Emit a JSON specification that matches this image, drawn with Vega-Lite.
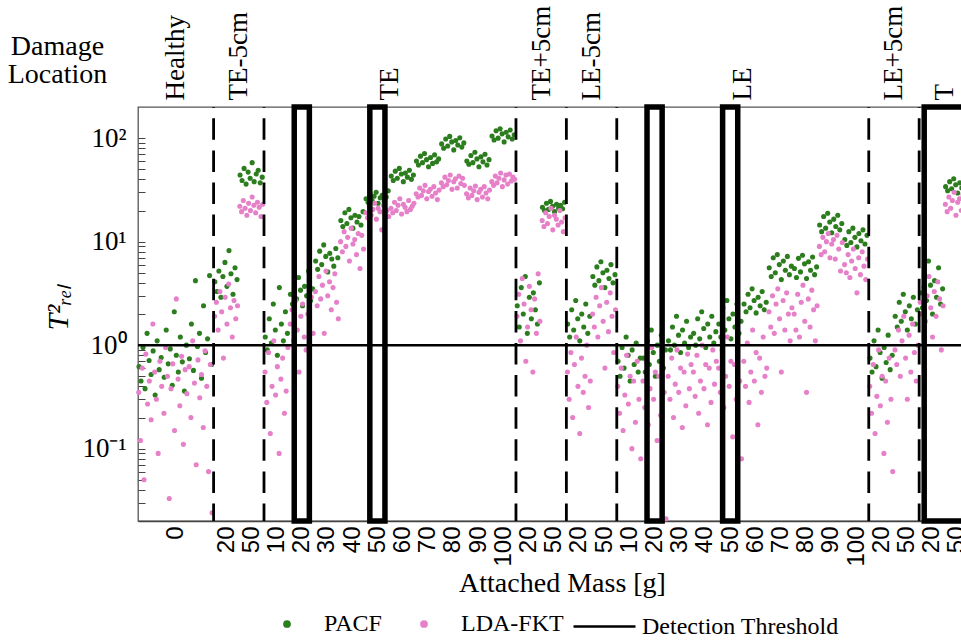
{
"$schema": "https://vega.github.io/schema/vega-lite/v6.json",
"width": 824,
"height": 414,
"autosize": {"type": "none"},
"padding": {"left": 138, "top": 107, "right": 0, "bottom": 120},
"background": "white",
"config": {
  "font": "Liberation Serif",
  "view": {"stroke": "#555", "strokeWidth": 1.3},
  "axis": {"grid": false, "domainColor": "#444", "domainWidth": 1.3, "tickColor": "#444", "labelColor": "black", "titleColor": "black", "titleFontWeight": "normal"},
  "legend": {"labelFont": "Liberation Serif", "labelFontSize": 24, "labelColor": "black", "labelLimit": 400}
},
"datasets": {
"pacf": [
{"x":0.04,"y":0.62},{"x":0.12,"y":0.45},{"x":0.2,"y":0.95},{"x":0.28,"y":0.38},{"x":0.36,"y":1.3},{"x":0.44,"y":0.71},{"x":0.52,"y":0.52},{"x":0.6,"y":0.88},{"x":0.68,"y":0.33},{"x":0.76,"y":1.1},{"x":0.84,"y":0.58},{"x":0.92,"y":0.76},
{"x":1.04,"y":0.49},{"x":1.12,"y":1.4},{"x":1.2,"y":0.66},{"x":1.28,"y":0.92},{"x":1.36,"y":0.41},{"x":1.44,"y":2.1},{"x":1.52,"y":0.8},{"x":1.6,"y":0.55},{"x":1.68,"y":1.2},{"x":1.76,"y":0.69},{"x":1.84,"y":0.36},{"x":1.92,"y":1.0},
{"x":2.04,"y":0.74},{"x":2.12,"y":1.6},{"x":2.2,"y":0.57},{"x":2.28,"y":4.2},{"x":2.36,"y":0.97},{"x":2.44,"y":1.3},{"x":2.52,"y":0.48},{"x":2.6,"y":2.4},{"x":2.68,"y":0.85},{"x":2.76,"y":1.15},{"x":2.84,"y":4.7},{"x":2.92,"y":0.65},
{"x":3.05,"y":4.1},{"x":3.13,"y":3.3},{"x":3.21,"y":5.2},{"x":3.29,"y":2.9},{"x":3.37,"y":4.6},{"x":3.45,"y":6.3},{"x":3.53,"y":3.7},{"x":3.61,"y":8.2},{"x":3.69,"y":4.9},{"x":3.77,"y":3.1},{"x":3.85,"y":5.6},{"x":3.93,"y":4.3},
{"x":4.05,"y":44},{"x":4.13,"y":39},{"x":4.21,"y":51},{"x":4.29,"y":36},{"x":4.37,"y":47},{"x":4.45,"y":41},{"x":4.53,"y":58},{"x":4.61,"y":38},{"x":4.69,"y":45},{"x":4.77,"y":49},{"x":4.85,"y":37},{"x":4.93,"y":42},
{"x":5.05,"y":1.2},{"x":5.13,"y":0.9},{"x":5.21,"y":1.8},{"x":5.29,"y":1.05},{"x":5.37,"y":2.5},{"x":5.45,"y":1.4},{"x":5.53,"y":0.8},{"x":5.61,"y":3.6},{"x":5.69,"y":1.6},{"x":5.77,"y":1.1},{"x":5.85,"y":2.1},{"x":5.93,"y":1.3},
{"x":6.05,"y":3.1},{"x":6.13,"y":2.5},{"x":6.21,"y":3.9},{"x":6.29,"y":2.8},{"x":6.37,"y":4.5},{"x":6.45,"y":3.4},{"x":6.53,"y":2.4},{"x":6.61,"y":3.7},{"x":6.69,"y":3.0},{"x":6.77,"y":5.2},{"x":6.85,"y":2.7},{"x":6.93,"y":3.5},
{"x":7.05,"y":6.5},{"x":7.13,"y":5.4},{"x":7.21,"y":8.1},{"x":7.29,"y":6.0},{"x":7.37,"y":9.3},{"x":7.45,"y":7.2},{"x":7.53,"y":5.1},{"x":7.61,"y":7.7},{"x":7.69,"y":6.8},{"x":7.77,"y":5.8},{"x":7.85,"y":8.6},{"x":7.93,"y":7.0},
{"x":8.05,"y":16},{"x":8.13,"y":14},{"x":8.21,"y":19},{"x":8.29,"y":15},{"x":8.37,"y":20.5},{"x":8.45,"y":17},{"x":8.53,"y":13.5},{"x":8.61,"y":18},{"x":8.69,"y":15.5},{"x":8.77,"y":17.5},{"x":8.85,"y":14.5},{"x":8.93,"y":19.5},
{"x":9.05,"y":26},{"x":9.13,"y":24},{"x":9.21,"y":29},{"x":9.29,"y":25},{"x":9.37,"y":27.5},{"x":9.45,"y":30},{"x":9.53,"y":23.5},{"x":9.61,"y":26.5},{"x":9.69,"y":28},{"x":9.77,"y":24.5},{"x":9.85,"y":27},{"x":9.93,"y":31},
{"x":10.05,"y":43},{"x":10.13,"y":39},{"x":10.21,"y":48},{"x":10.29,"y":41},{"x":10.37,"y":51},{"x":10.45,"y":45},{"x":10.53,"y":38},{"x":10.61,"y":46},{"x":10.69,"y":42},{"x":10.77,"y":49},{"x":10.85,"y":40},{"x":10.93,"y":44},
{"x":11.05,"y":60},{"x":11.13,"y":55},{"x":11.21,"y":67},{"x":11.29,"y":58},{"x":11.37,"y":71},{"x":11.45,"y":62},{"x":11.53,"y":53},{"x":11.61,"y":65},{"x":11.69,"y":57},{"x":11.77,"y":69},{"x":11.85,"y":59},{"x":11.93,"y":63},
{"x":12.05,"y":88},{"x":12.13,"y":80},{"x":12.21,"y":98},{"x":12.29,"y":84},{"x":12.37,"y":104},{"x":12.45,"y":92},{"x":12.53,"y":77},{"x":12.61,"y":95},{"x":12.69,"y":86},{"x":12.77,"y":101},{"x":12.85,"y":82},{"x":12.93,"y":90},
{"x":13.05,"y":60},{"x":13.13,"y":56},{"x":13.21,"y":68},{"x":13.29,"y":58},{"x":13.37,"y":73},{"x":13.45,"y":63},{"x":13.53,"y":53},{"x":13.61,"y":66},{"x":13.69,"y":59},{"x":13.77,"y":70},{"x":13.85,"y":55},{"x":13.93,"y":62},
{"x":14.05,"y":105},{"x":14.13,"y":96},{"x":14.21,"y":118},{"x":14.29,"y":100},{"x":14.37,"y":123},{"x":14.45,"y":110},{"x":14.53,"y":92},{"x":14.61,"y":114},{"x":14.69,"y":103},{"x":14.77,"y":120},{"x":14.85,"y":98},{"x":14.93,"y":108},
{"x":15.05,"y":2.4},{"x":15.13,"y":1.5},{"x":15.21,"y":3.6},{"x":15.29,"y":2.0},{"x":15.37,"y":4.6},{"x":15.45,"y":1.3},{"x":15.53,"y":2.9},{"x":15.61,"y":1.8},{"x":15.69,"y":3.2},{"x":15.77,"y":2.2},{"x":15.85,"y":1.6},{"x":15.93,"y":4.0},
{"x":16.05,"y":21.5},{"x":16.13,"y":20},{"x":16.21,"y":23.5},{"x":16.29,"y":20.5},{"x":16.37,"y":24.5},{"x":16.45,"y":22},{"x":16.53,"y":19.5},{"x":16.61,"y":23},{"x":16.69,"y":21},{"x":16.77,"y":22.5},{"x":16.85,"y":20.8},{"x":16.93,"y":24},
{"x":17.05,"y":1.6},{"x":17.13,"y":1.2},{"x":17.21,"y":2.2},{"x":17.29,"y":1.4},{"x":17.37,"y":2.7},{"x":17.45,"y":1.8},{"x":17.53,"y":1.1},{"x":17.61,"y":2.0},{"x":17.69,"y":1.5},{"x":17.77,"y":2.5},{"x":17.85,"y":1.3},{"x":17.93,"y":1.9},
{"x":18.05,"y":4.6},{"x":18.13,"y":3.8},{"x":18.21,"y":5.7},{"x":18.29,"y":4.2},{"x":18.37,"y":6.4},{"x":18.45,"y":5.0},{"x":18.53,"y":3.6},{"x":18.61,"y":5.3},{"x":18.69,"y":4.4},{"x":18.77,"y":6.0},{"x":18.85,"y":4.0},{"x":18.93,"y":4.8},
{"x":19.05,"y":0.7},{"x":19.13,"y":0.5},{"x":19.21,"y":0.95},{"x":19.29,"y":0.6},{"x":19.37,"y":1.2},{"x":19.45,"y":0.8},{"x":19.53,"y":0.45},{"x":19.61,"y":0.9},{"x":19.69,"y":0.65},{"x":19.77,"y":1.05},{"x":19.85,"y":0.55},{"x":19.93,"y":0.75},
{"x":20.05,"y":0.75},{"x":20.13,"y":0.55},{"x":20.21,"y":1.1},{"x":20.29,"y":0.65},{"x":20.37,"y":1.4},{"x":20.45,"y":0.85},{"x":20.53,"y":0.5},{"x":20.61,"y":1.0},{"x":20.69,"y":0.7},{"x":20.77,"y":1.25},{"x":20.85,"y":0.6},{"x":20.93,"y":0.9},
{"x":21.05,"y":1.1},{"x":21.13,"y":0.9},{"x":21.21,"y":1.5},{"x":21.29,"y":1.0},{"x":21.37,"y":1.9},{"x":21.45,"y":1.25},{"x":21.53,"y":0.85},{"x":21.61,"y":1.4},{"x":21.69,"y":1.05},{"x":21.77,"y":1.7},{"x":21.85,"y":0.95},{"x":21.93,"y":1.2},
{"x":22.05,"y":1.3},{"x":22.13,"y":1.0},{"x":22.21,"y":1.8},{"x":22.29,"y":1.15},{"x":22.37,"y":2.1},{"x":22.45,"y":1.45},{"x":22.53,"y":0.95},{"x":22.61,"y":1.6},{"x":22.69,"y":1.2},{"x":22.77,"y":1.9},{"x":22.85,"y":1.05},{"x":22.93,"y":1.35},
{"x":23.05,"y":1.6},{"x":23.13,"y":1.2},{"x":23.21,"y":2.3},{"x":23.29,"y":1.4},{"x":23.37,"y":2.7},{"x":23.45,"y":1.8},{"x":23.53,"y":1.15},{"x":23.61,"y":2.0},{"x":23.69,"y":1.5},{"x":23.77,"y":2.5},{"x":23.85,"y":1.3},{"x":23.93,"y":1.7},
{"x":24.05,"y":2.5},{"x":24.13,"y":2.1},{"x":24.21,"y":3.1},{"x":24.29,"y":2.3},{"x":24.37,"y":3.5},{"x":24.45,"y":2.7},{"x":24.53,"y":2.05},{"x":24.61,"y":2.9},{"x":24.69,"y":2.4},{"x":24.77,"y":3.3},{"x":24.85,"y":2.2},{"x":24.93,"y":2.6},
{"x":25.05,"y":5.6},{"x":25.13,"y":4.6},{"x":25.21,"y":7.0},{"x":25.29,"y":5.0},{"x":25.37,"y":7.5},{"x":25.45,"y":6.0},{"x":25.53,"y":4.3},{"x":25.61,"y":6.5},{"x":25.69,"y":5.3},{"x":25.77,"y":7.2},{"x":25.85,"y":4.8},{"x":25.93,"y":5.8},
{"x":26.05,"y":5.5},{"x":26.13,"y":4.5},{"x":26.21,"y":6.9},{"x":26.29,"y":5.1},{"x":26.37,"y":7.4},{"x":26.45,"y":6.1},{"x":26.53,"y":4.4},{"x":26.61,"y":6.4},{"x":26.69,"y":5.3},{"x":26.77,"y":7.1},{"x":26.85,"y":4.8},{"x":26.93,"y":5.7},
{"x":27.05,"y":14.5},{"x":27.13,"y":12.5},{"x":27.21,"y":17.5},{"x":27.29,"y":13.5},{"x":27.37,"y":18.8},{"x":27.45,"y":15.5},{"x":27.53,"y":12.2},{"x":27.61,"y":16.5},{"x":27.69,"y":14},{"x":27.77,"y":18},{"x":27.85,"y":13},{"x":27.93,"y":15},
{"x":28.05,"y":10.5},{"x":28.13,"y":9.2},{"x":28.21,"y":12.5},{"x":28.29,"y":9.8},{"x":28.37,"y":13.5},{"x":28.45,"y":11},{"x":28.53,"y":8.9},{"x":28.61,"y":12},{"x":28.69,"y":10.2},{"x":28.77,"y":13},{"x":28.85,"y":9.5},{"x":28.93,"y":11.5},
{"x":29.05,"y":0.75},{"x":29.13,"y":0.55},{"x":29.21,"y":1.1},{"x":29.29,"y":0.62},{"x":29.37,"y":1.4},{"x":29.45,"y":0.85},{"x":29.53,"y":0.48},{"x":29.61,"y":0.95},{"x":29.69,"y":0.68},{"x":29.77,"y":1.25},{"x":29.85,"y":0.58},{"x":29.93,"y":0.8},
{"x":30.05,"y":1.9},{"x":30.13,"y":1.5},{"x":30.21,"y":2.6},{"x":30.29,"y":1.7},{"x":30.37,"y":3.1},{"x":30.45,"y":2.1},{"x":30.53,"y":1.4},{"x":30.61,"y":2.4},{"x":30.69,"y":1.8},{"x":30.77,"y":2.9},{"x":30.85,"y":1.6},{"x":30.93,"y":2.2},
{"x":31.05,"y":3.2},{"x":31.13,"y":2.3},{"x":31.21,"y":4.8},{"x":31.29,"y":2.7},{"x":31.37,"y":6.5},{"x":31.45,"y":3.8},{"x":31.53,"y":2.0},{"x":31.61,"y":4.2},{"x":31.69,"y":2.9},{"x":31.77,"y":5.6},{"x":31.85,"y":2.5},{"x":31.93,"y":3.5},
{"x":32.05,"y":34},{"x":32.13,"y":31},{"x":32.21,"y":38},{"x":32.29,"y":32.5},{"x":32.37,"y":40.5},{"x":32.45,"y":35.5},{"x":32.53,"y":29.5},{"x":32.61,"y":37},{"x":32.69,"y":33},{"x":32.77,"y":39},{"x":32.85,"y":30.5},{"x":32.93,"y":36}
],
"lda": [
{"x":0.03,"y":0.35},{"x":0.1,"y":0.12},{"x":0.17,"y":0.6},{"x":0.24,"y":0.05},{"x":0.31,"y":0.82},{"x":0.38,"y":0.27},{"x":0.45,"y":0.45},{"x":0.52,"y":0.19},{"x":0.59,"y":1.6},{"x":0.66,"y":0.55},{"x":0.73,"y":0.3},{"x":0.8,"y":0.09},{"x":0.87,"y":0.7},{"x":0.94,"y":0.4},
{"x":1.03,"y":0.22},{"x":1.1,"y":0.95},{"x":1.17,"y":0.5},{"x":1.24,"y":0.033},{"x":1.31,"y":0.38},{"x":1.38,"y":0.66},{"x":1.45,"y":0.15},{"x":1.52,"y":2.8},{"x":1.59,"y":0.47},{"x":1.66,"y":0.26},{"x":1.73,"y":0.78},{"x":1.8,"y":0.11},{"x":1.87,"y":0.58},{"x":1.94,"y":0.34},
{"x":2.03,"y":0.62},{"x":2.1,"y":0.2},{"x":2.17,"y":1.1},{"x":2.24,"y":0.43},{"x":2.31,"y":0.07},{"x":2.38,"y":0.72},{"x":2.45,"y":0.31},{"x":2.52,"y":0.52},{"x":2.59,"y":0.16},{"x":2.66,"y":0.88},{"x":2.73,"y":0.4},{"x":2.8,"y":0.06},{"x":2.87,"y":0.65},{"x":2.94,"y":0.024},
{"x":3.04,"y":1.9},{"x":3.11,"y":2.6},{"x":3.18,"y":1.4},{"x":3.25,"y":3.3},{"x":3.32,"y":2.1},{"x":3.39,"y":0.75},{"x":3.46,"y":2.9},{"x":3.53,"y":1.6},{"x":3.6,"y":3.9},{"x":3.67,"y":2.3},{"x":3.74,"y":1.2},{"x":3.81,"y":2.7},{"x":3.88,"y":1.8},{"x":3.95,"y":2.4},
{"x":4.04,"y":22},{"x":4.11,"y":19.5},{"x":4.18,"y":25},{"x":4.25,"y":21},{"x":4.32,"y":18},{"x":4.39,"y":23.5},{"x":4.46,"y":20},{"x":4.53,"y":27},{"x":4.6,"y":22.5},{"x":4.67,"y":19},{"x":4.74,"y":24},{"x":4.81,"y":21.5},{"x":4.88,"y":17.5},{"x":4.95,"y":23},
{"x":5.04,"y":0.55},{"x":5.11,"y":0.28},{"x":5.18,"y":0.85},{"x":5.25,"y":0.14},{"x":5.32,"y":0.4},{"x":5.39,"y":1.1},{"x":5.46,"y":0.33},{"x":5.53,"y":0.62},{"x":5.6,"y":0.09},{"x":5.67,"y":0.47},{"x":5.74,"y":0.75},{"x":5.81,"y":0.22},{"x":5.88,"y":0.36},{"x":5.95,"y":0.95},
{"x":6.04,"y":1.6},{"x":6.11,"y":2.2},{"x":6.18,"y":1.1},{"x":6.25,"y":2.7},{"x":6.32,"y":1.4},{"x":6.39,"y":0.55},{"x":6.46,"y":1.9},{"x":6.53,"y":2.5},{"x":6.6,"y":1.2},{"x":6.67,"y":0.9},{"x":6.74,"y":2.0},{"x":6.81,"y":1.5},{"x":6.88,"y":2.9},{"x":6.95,"y":1.3},
{"x":7.04,"y":3.3},{"x":7.11,"y":2.4},{"x":7.18,"y":4.6},{"x":7.25,"y":2.8},{"x":7.32,"y":3.8},{"x":7.39,"y":1.3},{"x":7.46,"y":5.2},{"x":7.53,"y":3.0},{"x":7.6,"y":4.1},{"x":7.67,"y":2.2},{"x":7.74,"y":3.6},{"x":7.81,"y":4.9},{"x":7.88,"y":2.6},{"x":7.95,"y":1.8},
{"x":8.04,"y":10},{"x":8.11,"y":8},{"x":8.18,"y":12.5},{"x":8.25,"y":9},{"x":8.32,"y":11},{"x":8.39,"y":6.5},{"x":8.46,"y":13.5},{"x":8.53,"y":9.5},{"x":8.6,"y":10.5},{"x":8.67,"y":7.5},{"x":8.74,"y":12},{"x":8.81,"y":5.5},{"x":8.88,"y":11.5},{"x":8.95,"y":8.5},
{"x":9.04,"y":19},{"x":9.11,"y":17},{"x":9.18,"y":22},{"x":9.25,"y":18},{"x":9.32,"y":20.5},{"x":9.39,"y":23.5},{"x":9.46,"y":16.5},{"x":9.53,"y":21},{"x":9.6,"y":19.5},{"x":9.67,"y":13},{"x":9.74,"y":22.5},{"x":9.81,"y":18.5},{"x":9.88,"y":20},{"x":9.95,"y":17.5},
{"x":10.04,"y":21},{"x":10.11,"y":19},{"x":10.18,"y":24},{"x":10.25,"y":20},{"x":10.32,"y":22.5},{"x":10.39,"y":26},{"x":10.46,"y":18.5},{"x":10.53,"y":23},{"x":10.6,"y":21.5},{"x":10.67,"y":19.5},{"x":10.74,"y":25},{"x":10.81,"y":20.5},{"x":10.88,"y":22},{"x":10.95,"y":23.5},
{"x":11.04,"y":29},{"x":11.11,"y":27},{"x":11.18,"y":33},{"x":11.25,"y":28},{"x":11.32,"y":31},{"x":11.39,"y":35},{"x":11.46,"y":26},{"x":11.53,"y":30.5},{"x":11.6,"y":32},{"x":11.67,"y":27.5},{"x":11.74,"y":34},{"x":11.81,"y":29.5},{"x":11.88,"y":25.5},{"x":11.95,"y":31.5},
{"x":12.04,"y":37},{"x":12.11,"y":34},{"x":12.18,"y":42},{"x":12.25,"y":35.5},{"x":12.32,"y":39},{"x":12.39,"y":44},{"x":12.46,"y":32},{"x":12.53,"y":38},{"x":12.6,"y":40.5},{"x":12.67,"y":33},{"x":12.74,"y":43},{"x":12.81,"y":36.5},{"x":12.88,"y":41},{"x":12.95,"y":35},
{"x":13.04,"y":29},{"x":13.11,"y":26.5},{"x":13.18,"y":33},{"x":13.25,"y":28},{"x":13.32,"y":31},{"x":13.39,"y":34.5},{"x":13.46,"y":25.5},{"x":13.53,"y":30},{"x":13.6,"y":32},{"x":13.67,"y":27},{"x":13.74,"y":34},{"x":13.81,"y":29.5},{"x":13.88,"y":26},{"x":13.95,"y":31.5},
{"x":14.04,"y":38},{"x":14.11,"y":35},{"x":14.18,"y":43},{"x":14.25,"y":37},{"x":14.32,"y":41},{"x":14.39,"y":46},{"x":14.46,"y":34},{"x":14.53,"y":39.5},{"x":14.6,"y":44},{"x":14.67,"y":36},{"x":14.74,"y":45},{"x":14.81,"y":38.5},{"x":14.88,"y":42},{"x":14.95,"y":40},
{"x":15.04,"y":1.9},{"x":15.11,"y":3.1},{"x":15.18,"y":1.1},{"x":15.25,"y":4.4},{"x":15.32,"y":2.5},{"x":15.39,"y":0.7},{"x":15.46,"y":1.5},{"x":15.53,"y":3.7},{"x":15.6,"y":2.2},{"x":15.67,"y":0.55},{"x":15.74,"y":2.8},{"x":15.81,"y":1.3},{"x":15.88,"y":4.9},{"x":15.95,"y":1.7},
{"x":16.04,"y":16},{"x":16.11,"y":14},{"x":16.18,"y":19},{"x":16.25,"y":15},{"x":16.32,"y":17.5},{"x":16.39,"y":21},{"x":16.46,"y":13},{"x":16.53,"y":18},{"x":16.6,"y":16.5},{"x":16.67,"y":14.5},{"x":16.74,"y":20},{"x":16.81,"y":15.5},{"x":16.88,"y":12.5},{"x":16.95,"y":17},
{"x":17.04,"y":0.55},{"x":17.11,"y":0.3},{"x":17.18,"y":0.85},{"x":17.25,"y":0.2},{"x":17.32,"y":0.65},{"x":17.39,"y":1.2},{"x":17.46,"y":0.4},{"x":17.53,"y":0.14},{"x":17.6,"y":0.75},{"x":17.67,"y":0.35},{"x":17.74,"y":0.5},{"x":17.81,"y":1.0},{"x":17.88,"y":0.25},{"x":17.95,"y":0.45},
{"x":18.04,"y":2.0},{"x":18.11,"y":1.5},{"x":18.18,"y":2.9},{"x":18.25,"y":1.2},{"x":18.32,"y":2.4},{"x":18.39,"y":3.6},{"x":18.46,"y":1.7},{"x":18.53,"y":0.6},{"x":18.6,"y":2.6},{"x":18.67,"y":1.35},{"x":18.74,"y":3.2},{"x":18.81,"y":1.9},{"x":18.88,"y":0.85},{"x":18.95,"y":2.2},
{"x":19.04,"y":0.4},{"x":19.11,"y":0.22},{"x":19.18,"y":0.6},{"x":19.25,"y":0.15},{"x":19.32,"y":0.33},{"x":19.39,"y":0.8},{"x":19.46,"y":0.27},{"x":19.53,"y":0.5},{"x":19.6,"y":0.1},{"x":19.67,"y":0.45},{"x":19.74,"y":0.18},{"x":19.81,"y":0.7},{"x":19.88,"y":0.3},{"x":19.95,"y":0.08},
{"x":20.04,"y":0.45},{"x":20.11,"y":0.25},{"x":20.18,"y":0.7},{"x":20.25,"y":0.17},{"x":20.32,"y":0.38},{"x":20.39,"y":0.95},{"x":20.46,"y":0.3},{"x":20.53,"y":0.55},{"x":20.6,"y":0.12},{"x":20.67,"y":0.5},{"x":20.74,"y":0.21},{"x":20.81,"y":0.8},{"x":20.88,"y":0.35},{"x":20.95,"y":0.021},
{"x":21.04,"y":0.5},{"x":21.11,"y":0.3},{"x":21.18,"y":0.75},{"x":21.25,"y":0.2},{"x":21.32,"y":0.42},{"x":21.39,"y":0.9},{"x":21.46,"y":0.35},{"x":21.53,"y":0.6},{"x":21.6,"y":0.16},{"x":21.67,"y":0.55},{"x":21.74,"y":0.26},{"x":21.81,"y":0.82},{"x":21.88,"y":0.38},{"x":21.95,"y":0.65},
{"x":22.04,"y":0.55},{"x":22.11,"y":0.32},{"x":22.18,"y":0.8},{"x":22.25,"y":0.22},{"x":22.32,"y":0.45},{"x":22.39,"y":1.0},{"x":22.46,"y":0.38},{"x":22.53,"y":0.65},{"x":22.6,"y":0.17},{"x":22.67,"y":0.6},{"x":22.74,"y":0.28},{"x":22.81,"y":0.9},{"x":22.88,"y":0.42},{"x":22.95,"y":0.7},
{"x":23.04,"y":0.6},{"x":23.11,"y":0.35},{"x":23.18,"y":0.9},{"x":23.25,"y":0.25},{"x":23.32,"y":0.5},{"x":23.39,"y":1.2},{"x":23.46,"y":0.4},{"x":23.53,"y":0.7},{"x":23.6,"y":0.13},{"x":23.67,"y":0.65},{"x":23.74,"y":0.3},{"x":23.81,"y":1.0},{"x":23.88,"y":0.45},{"x":23.95,"y":0.08},
{"x":24.04,"y":0.7},{"x":24.11,"y":0.4},{"x":24.18,"y":1.05},{"x":24.25,"y":0.28},{"x":24.32,"y":0.55},{"x":24.39,"y":1.4},{"x":24.46,"y":0.45},{"x":24.53,"y":0.85},{"x":24.6,"y":0.17},{"x":24.67,"y":0.75},{"x":24.74,"y":0.35},{"x":24.81,"y":1.2},{"x":24.88,"y":0.5},{"x":24.95,"y":0.6},
{"x":25.04,"y":2.1},{"x":25.11,"y":1.5},{"x":25.18,"y":3.0},{"x":25.25,"y":1.3},{"x":25.32,"y":2.5},{"x":25.39,"y":3.5},{"x":25.46,"y":1.8},{"x":25.53,"y":0.55},{"x":25.6,"y":2.7},{"x":25.67,"y":1.4},{"x":25.74,"y":3.2},{"x":25.81,"y":2.0},{"x":25.88,"y":1.1},{"x":25.95,"y":2.3},
{"x":26.04,"y":2.0},{"x":26.11,"y":1.4},{"x":26.18,"y":3.1},{"x":26.25,"y":1.2},{"x":26.32,"y":2.6},{"x":26.39,"y":3.8},{"x":26.46,"y":1.7},{"x":26.53,"y":0.35},{"x":26.6,"y":2.8},{"x":26.67,"y":1.5},{"x":26.74,"y":3.4},{"x":26.81,"y":2.2},{"x":26.88,"y":1.1},{"x":26.95,"y":2.4},
{"x":27.04,"y":9},{"x":27.11,"y":7.5},{"x":27.18,"y":11},{"x":27.25,"y":8},{"x":27.32,"y":10},{"x":27.39,"y":12},{"x":27.46,"y":7},{"x":27.53,"y":9.5},{"x":27.6,"y":10.5},{"x":27.67,"y":6.8},{"x":27.74,"y":11.5},{"x":27.81,"y":8.5},{"x":27.88,"y":5.2},{"x":27.95,"y":9.8},
{"x":28.04,"y":6},{"x":28.11,"y":5},{"x":28.18,"y":7.5},{"x":28.25,"y":4.5},{"x":28.32,"y":6.5},{"x":28.39,"y":8.5},{"x":28.46,"y":5.5},{"x":28.53,"y":3.2},{"x":28.6,"y":7},{"x":28.67,"y":4.8},{"x":28.74,"y":8},{"x":28.81,"y":5.8},{"x":28.88,"y":4.3},{"x":28.95,"y":6.8},
{"x":29.04,"y":0.4},{"x":29.11,"y":0.22},{"x":29.18,"y":0.65},{"x":29.25,"y":0.14},{"x":29.32,"y":0.32},{"x":29.39,"y":0.9},{"x":29.46,"y":0.26},{"x":29.53,"y":0.5},{"x":29.6,"y":0.09},{"x":29.67,"y":0.45},{"x":29.74,"y":0.18},{"x":29.81,"y":0.75},{"x":29.88,"y":0.3},{"x":29.95,"y":0.06},
{"x":30.04,"y":0.9},{"x":30.11,"y":0.65},{"x":30.18,"y":1.4},{"x":30.25,"y":0.5},{"x":30.32,"y":1.1},{"x":30.39,"y":1.9},{"x":30.46,"y":0.75},{"x":30.53,"y":0.3},{"x":30.6,"y":1.25},{"x":30.67,"y":0.55},{"x":30.74,"y":1.6},{"x":30.81,"y":0.85},{"x":30.88,"y":0.45},{"x":30.95,"y":1.0},
{"x":31.04,"y":2.6},{"x":31.11,"y":2.0},{"x":31.18,"y":3.6},{"x":31.25,"y":1.7},{"x":31.32,"y":3.0},{"x":31.39,"y":4.6},{"x":31.46,"y":2.3},{"x":31.53,"y":1.2},{"x":31.6,"y":3.3},{"x":31.67,"y":1.9},{"x":31.74,"y":4.1},{"x":31.81,"y":2.8},{"x":31.88,"y":0.9},{"x":31.95,"y":2.4},
{"x":32.04,"y":23},{"x":32.11,"y":19.5},{"x":32.18,"y":27},{"x":32.25,"y":21},{"x":32.32,"y":25},{"x":32.39,"y":30},{"x":32.46,"y":18},{"x":32.53,"y":24},{"x":32.6,"y":26},{"x":32.67,"y":20},{"x":32.74,"y":28.5},{"x":32.81,"y":22},{"x":32.88,"y":17.5},{"x":32.95,"y":24.5}
],
"threshold": [{"y": 1, "label": "Detection Threshold"}],
"bounds": [{"x": 3}, {"x": 5}, {"x": 15}, {"x": 17}, {"x": 19}, {"x": 29}, {"x": 31}],
"boxes": [{"x": 6.2, "x2": 6.8}, {"x": 9.2, "x2": 9.8}, {"x": 20.2, "x2": 20.8}, {"x": 23.2, "x2": 23.8}, {"x": 31.2, "x2": 34}]
},
"resolve": {"axis": {"x": "independent"}},
"layer": [
{
  "data": {"name": "pacf"},
  "mark": {"type": "point", "filled": true, "shape": "circle", "size": 26, "opacity": 1},
  "encoding": {
    "x": {"field": "x", "type": "quantitative", "scale": {"domain": [0, 32.7], "nice": false, "zero": false},
      "axis": {"orient": "bottom", "values": [1.5,3.5,4.5,5.5,6.5,7.5,8.5,9.5,10.5,11.5,12.5,13.5,14.5,15.5,16.5,17.5,18.5,19.5,20.5,21.5,22.5,23.5,24.5,25.5,26.5,27.5,28.5,29.5,30.5,31.5,32.5],
        "labelExpr": "['0','20','50','10','20','30','40','50','60','70','80','90','100','20','50','20','50','10','20','30','40','50','60','70','80','90','100','20','50','20','50'][datum.value < 3 ? 0 : floor(datum.value) - 2]",
        "labelAngle": 270, "labelAlign": "right", "labelBaseline": "middle", "labelFont": "Liberation Sans", "labelFontSize": 24, "labelPadding": 5,
        "ticks": false, "labelFlush": false, "labelOverlap": false, "labelBound": false,
        "title": "Attached Mass [g]", "titleFont": "Liberation Serif", "titleFontSize": 28, "titleX": 424, "titleY": 62, "titleAlign": "center", "titleBaseline": "middle"}},
    "y": {"field": "y", "type": "quantitative", "scale": {"type": "log", "domain": [0.02, 200], "nice": false},
      "axis": {"values": [0.03,0.04,0.05,0.06,0.07,0.08,0.09,0.1,0.2,0.3,0.4,0.5,0.6,0.7,0.8,0.9,1,2,3,4,5,6,7,8,9,10,20,30,40,50,60,70,80,90,100],
        "labelExpr": "datum.value == 0.1 ? '10\u207b\u00b9' : datum.value == 1 ? '10\u2070' : datum.value == 10 ? '10\u00b9' : datum.value == 100 ? '10\u00b2' : ''",
        "labelFont": "Liberation Serif", "labelFontSize": 27, "labelPadding": 12,
        "domain": false, "offset": -7, "tickSize": 7,
        "labelOverlap": false, "labelFlush": false, "labelBound": false,
        "title": "T\u00b2\u1d63\u2091\u2097", "titleFont": "Liberation Serif", "titleFontStyle": "italic", "titleFontSize": 30,
        "titleX": -87, "titleY": 200, "titleAlign": "center", "titleBaseline": "middle", "titleAngle": 270}},
    "color": {"datum": "PACF", "type": "nominal",
      "scale": {"domain": ["PACF", "LDA-FKT"], "range": ["#2c7d1e", "#e680c8"]},
      "legend": {"orient": "none", "legendX": 137, "legendY": 505, "direction": "horizontal", "title": null, "symbolType": "circle", "symbolSize": 60, "symbolStrokeWidth": 0, "labelOffset": 25, "columnPadding": 30, "labelFontSize": 24}}
  }
},
{
  "data": {"name": "lda"},
  "mark": {"type": "point", "filled": true, "shape": "circle", "size": 26, "opacity": 1},
  "encoding": {
    "x": {"field": "x", "type": "quantitative", "scale": {"domain": [0, 32.7], "nice": false, "zero": false}, "axis": null},
    "y": {"field": "y", "type": "quantitative", "scale": {"type": "log", "domain": [0.02, 200], "nice": false}},
    "color": {"datum": "LDA-FKT", "type": "nominal"}
  }
},
{
  "data": {"name": "threshold"},
  "mark": {"type": "rule", "color": "black", "strokeWidth": 2.5},
  "encoding": {
    "y": {"field": "y", "type": "quantitative", "scale": {"type": "log", "domain": [0.02, 200], "nice": false}},
    "strokeDash": {"field": "label", "type": "nominal", "scale": {"range": [[1, 0]]},
      "legend": {"orient": "none", "legendX": 434, "legendY": 487, "title": null, "symbolType": "stroke", "symbolSize": 3844, "symbolStrokeWidth": 2.5, "symbolStrokeColor": "black", "labelOffset": 5, "labelFontSize": 24}}
  }
},
{
  "data": {"name": "bounds"},
  "mark": {"type": "rule", "color": "black", "strokeWidth": 2.8, "strokeDash": [21.5, 10.6], "strokeDashOffset": 20.8},
  "encoding": {
    "x": {"field": "x", "type": "quantitative", "scale": {"domain": [0, 32.7], "nice": false, "zero": false}, "axis": null}
  }
},
{
  "data": {"name": "boxes"},
  "mark": {"type": "rect", "filled": false, "color": "black", "strokeWidth": 5.5},
  "encoding": {
    "x": {"field": "x", "type": "quantitative", "scale": {"domain": [0, 32.7], "nice": false, "zero": false},
      "axis": {"orient": "top", "values": [1.5, 4, 10, 16, 18, 24, 30, 32],
        "labelExpr": "datum.value == 1.5 ? 'Healthy' : datum.value == 4 ? 'TE-5cm' : datum.value == 10 ? 'TE' : datum.value == 16 ? 'TE+5cm' : datum.value == 18 ? 'LE-5cm' : datum.value == 24 ? 'LE' : datum.value == 30 ? 'LE+5cm' : 'T'",
        "labelAngle": 270, "labelAlign": "left", "labelBaseline": "middle", "labelFont": "Liberation Serif", "labelFontSize": 27, "labelPadding": 7,
        "ticks": false, "domain": false, "labelFlush": false, "labelOverlap": false, "labelBound": false,
        "title": ["Damage", "Location"], "titleFont": "Liberation Serif", "titleFontSize": 28, "titleLineHeight": 28,
        "titleX": -81, "titleY": -61, "titleAngle": 0, "titleAlign": "center", "titleBaseline": "middle"}},
    "x2": {"field": "x2"}
  }
}
]
}
